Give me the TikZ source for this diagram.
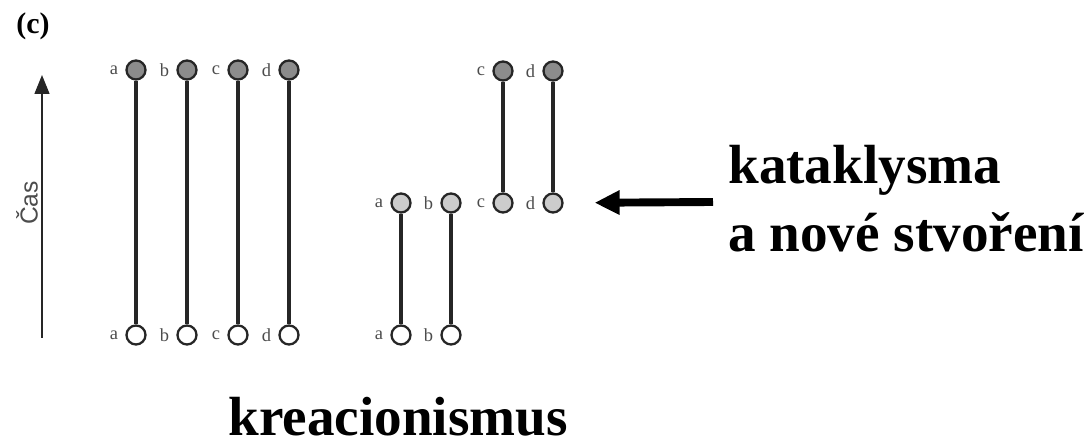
\documentclass[tikz,border=0pt]{standalone}
\usepackage{fontspec}
\setmainfont{Liberation Serif}
\newfontfamily\casfont{Liberation Sans}
\usetikzlibrary{arrows.meta}
\tikzset{
  lineage/.style={line width=2pt,color=black!85},
  taxon/.style={circle,draw=black!85,line width=1.3pt,minimum size=0.38cm,inner sep=0pt},
  old/.style={taxon,fill=black!45},
  reborn/.style={taxon,fill=black!20},
  living/.style={taxon,fill=white},
  tip/.style={font=\fontsize{10.5}{10.5}\selectfont,text=black!70,inner sep=1pt,label distance=3pt},
  big/.style={font=\bfseries\fontsize{31.4}{38.8}\selectfont},
}

\begin{document}
\begin{tikzpicture}[x=0.02cm,y=-0.02cm]
  \useasboundingbox (0,0) rectangle (1089,448);
  \node[font=\bfseries\fontsize{17}{17}\selectfont] (panel) at (33,26) {(c)};

  % time axis
  \coordinate (t0) at (42,338);
  \coordinate (t1) at (42,75);
  \draw[line width=0.8pt,black!85,-{Triangle[length=0.38cm,width=0.3cm]}] (t0) -- (t1);
  \node[rotate=90,font=\casfont\fontsize{14}{14}\selectfont,text=black!70] (time) at (27,203) {Čas};

  % left: continuous lineages
  \foreach \x/\n in {136/a,187/b,238/c,289/d} {
    \node[old,label={[tip]left:\n}] (top\n) at (\x,70) {};
    \node[living,label={[tip]left:\n}] (now\n) at (\x,335) {};
    \path[lineage] (top\n) edge (now\n);
  }

  % right: catastrophe and new creation
  \foreach \x/\n in {503/c,553/d} {
    \node[old,label={[tip]left:\n}] (rtop\n) at (\x,71) {};
    \node[reborn,label={[tip]left:\n}] (rmid\n) at (\x,203) {};
    \path[lineage] (rtop\n) edge (rmid\n);
  }
  \foreach \x/\n in {401/a,451/b} {
    \node[reborn,label={[tip]left:\n}] (rmid\n) at (\x,203) {};
    \node[living,label={[tip]left:\n}] (rnow\n) at (\x,335) {};
    \path[lineage] (rmid\n) edge (rnow\n);
  }

  \node[big,align=left,anchor=base west,inner sep=0pt] (event) at (728,252) {kataklysma\\a nové stvoření};
  \coordinate (from) at (713,202);
  \draw[line width=4.5pt,-{Triangle[length=0.5cm,width=0.46cm]},shorten >=0.62cm] (from) -- (rmidd);

  \node[big,anchor=base,inner sep=0pt] (title) at (398,436) {kreacionismus};
\end{tikzpicture}
\end{document}
